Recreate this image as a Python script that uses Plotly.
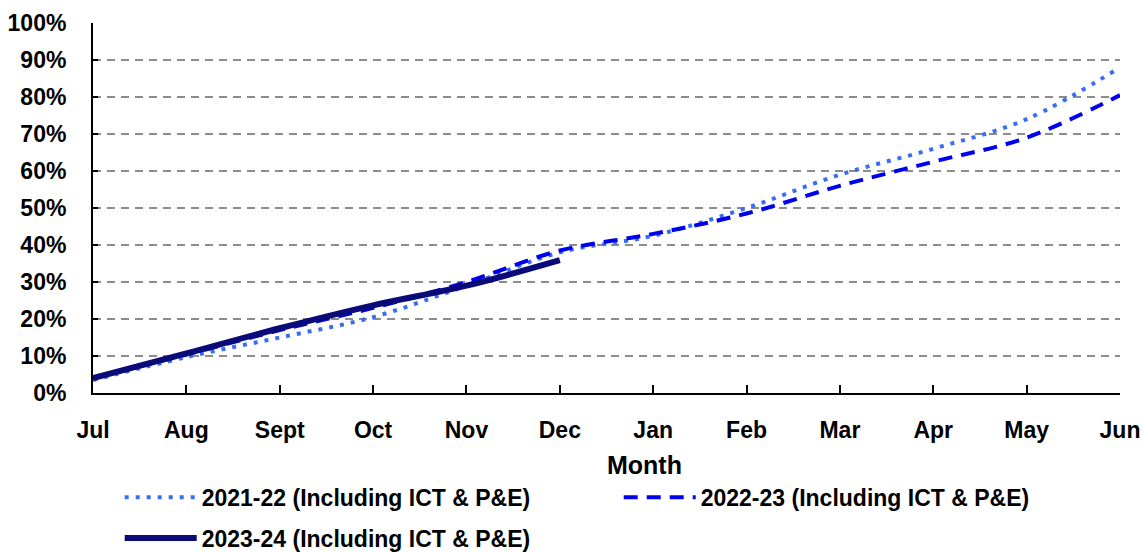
import plotly.graph_objects as go

months = ["Jul", "Aug", "Sept", "Oct", "Nov", "Dec", "Jan", "Feb", "Mar", "Apr", "May", "Jun"]
fy2122 = [0.035, 0.097, 0.15, 0.205, 0.29, 0.38, 0.425, 0.50, 0.59, 0.66, 0.74, 0.88]
fy2223 = [0.04, 0.104, 0.17, 0.23, 0.30, 0.385, 0.43, 0.485, 0.56, 0.625, 0.69, 0.805]
fy2324 = [0.04, 0.107, 0.175, 0.237, 0.29, 0.359]

names = ["2021-22 (Including ICT & P&E)", "2022-23 (Including ICT & P&E)", "2023-24 (Including ICT & P&E)"]
x_title = "Month"

FONT = "Liberation Sans, Arial"
FS = 23

fig = go.Figure()
fig.add_trace(go.Scatter(x=months, y=fy2122, name=names[0], mode="lines", legend="legend",
                         line=dict(color="#3A6DF5", width=4, dash="4px,7px", shape="spline")))
fig.add_trace(go.Scatter(x=months, y=fy2223, name=names[1], mode="lines", legend="legend",
                         line=dict(color="#0000F0", width=4, dash="14px,9px", shape="spline")))
fig.add_trace(go.Scatter(x=months[:len(fy2324)], y=fy2324, name=names[2], mode="lines", legend="legend2",
                         line=dict(color="#0A0A78", width=6, shape="spline")))

legend_common = dict(orientation="h", xanchor="left", yanchor="top",
                     entrywidth=412, entrywidthmode="pixels",
                     font=dict(family=FONT, size=FS, color="black", weight="bold"),
                     itemwidth=72, bgcolor="rgba(0,0,0,0)")

fig.update_layout(
    width=1143, height=553,
    margin=dict(l=93, r=23, t=23, b=160, autoexpand=False),
    paper_bgcolor="white", plot_bgcolor="white",
    font=dict(family=FONT, size=FS, color="black"),
    showlegend=True,
    legend=dict(x=0.026, y=-0.224, **legend_common),
    legend2=dict(x=0.026, y=-0.334, **legend_common),
    annotations=[dict(text="<b>" + x_title + "</b>", xref="paper", yref="paper",
                      x=0.537, y=-0.195, xanchor="center", yanchor="middle",
                      showarrow=False, font=dict(family=FONT, size=25, color="black"))],
)
fig.update_xaxes(
    type="category", categoryorder="array", categoryarray=months,
    range=[0, 11], showgrid=False,
    showline=True, linecolor="black", linewidth=2,
    ticks="inside", ticklen=8, tickwidth=2, tickcolor="black",
    tickfont=dict(family=FONT, size=FS, color="black", weight="bold"),
    ticklabelstandoff=15,
)
fig.update_yaxes(
    range=[0, 1], dtick=0.1, tickformat=".0%",
    showgrid=True, gridcolor="#8C8C8C", gridwidth=2, griddash="8px,6px",
    showline=True, linecolor="black", linewidth=2,
    ticks="inside", ticklen=5, tickwidth=2, tickcolor="black",
    tickfont=dict(family=FONT, size=FS, color="black", weight="bold"),
    ticklabelstandoff=20,
    zeroline=False,
)

fig.write_html("out.html", config={"displayModeBar": False},
               post_script="document.body.style.margin='0';document.body.style.overflow='hidden';")
